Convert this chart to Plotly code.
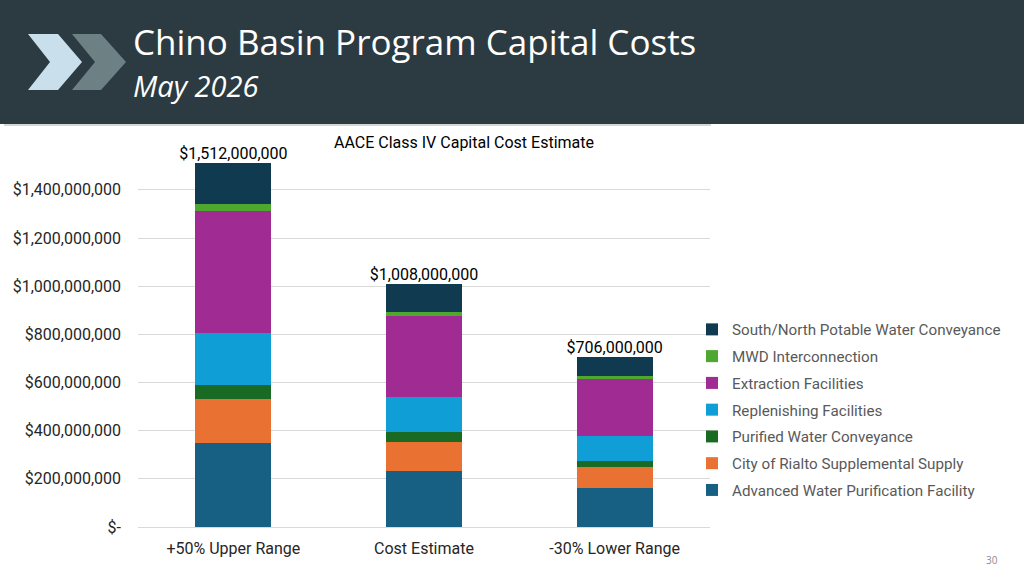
import plotly.graph_objects as go

# values in $ millions
scenarios = ["+50% Upper Range", "Cost Estimate", "-30% Lower Range"]
awpf = [347, 231, 162]            # Advanced Water Purification Facility
rialto = [186, 124, 87]           # City of Rialto Supplemental Supply
purified = [58, 39, 27]           # Purified Water Conveyance
replenishing = [216, 144, 101]    # Replenishing Facilities
extraction = [506, 337, 236]      # Extraction Facilities
mwd = [27, 18, 13]                # MWD Interconnection
south_north = [172, 115, 80]      # South/North Potable Water Conveyance

series = [
    ("Advanced Water Purification Facility", awpf, "#176083"),
    ("City of Rialto Supplemental Supply", rialto, "#e97132"),
    ("Purified Water Conveyance", purified, "#196b24"),
    ("Replenishing Facilities", replenishing, "#0f9ed5"),
    ("Extraction Facilities", extraction, "#a02b93"),
    ("MWD Interconnection", mwd, "#4ea72e"),
    ("South/North Potable Water Conveyance", south_north, "#0f3a50"),
]

y_ticks = [0, 200, 400, 600, 800, 1000, 1200, 1400]

totals = [sum(v) for v in zip(*[s[1] for s in series])]

# plot area in pixels (1024x576 page)
W, H = 1024, 576
L, R, T, B = 138, 710, 161, 527


def px(x):
    return (x - L) / (R - L)


def py(y):
    return (B - y) / (B - T)


fig = go.Figure()
for i, (name, vals, col) in enumerate(series):
    fig.add_trace(go.Bar(
        name=name, x=scenarios, y=[v * 1e6 for v in vals],
        marker=dict(color=col, line=dict(width=0)),
        legendgroup=str(i), legendrank=len(series) - i, hoverinfo="name+y",
    ))

fig.add_trace(go.Scatter(
    x=scenarios, y=[t * 1e6 for t in totals], mode="text",
    text=["${:,.0f}".format(t * 1e6) for t in totals],
    textposition="top center", cliponaxis=False,
    textfont=dict(size=16, color="#000000", family="Roboto"),
    showlegend=False, hoverinfo="skip",
))

shapes = [
    # header band
    dict(type="rect", xref="paper", yref="paper", x0=px(0), x1=px(W), y0=py(124), y1=py(0),
         fillcolor="#2c3b41", line=dict(width=0), layer="below"),
    # chart box top edge
    dict(type="line", xref="paper", yref="paper", x0=px(4), x1=px(711), y0=py(125), y1=py(125),
         line=dict(color="#c8c8c8", width=1.5)),
    # chevrons
    dict(type="path", xref="paper", yref="paper",
         path="M {},{} L {},{} L {},{} L {},{} L {},{} L {},{} Z".format(
             px(28), py(34), px(58), py(34), px(82), py(62),
             px(58), py(90), px(28), py(90), px(50), py(62)),
         fillcolor="#c9dfeb", line=dict(width=0)),
    dict(type="path", xref="paper", yref="paper",
         path="M {},{} L {},{} L {},{} L {},{} L {},{} L {},{} Z".format(
             px(72), py(34), px(101), py(34), px(126), py(62),
             px(101), py(90), px(72), py(90), px(95), py(62)),
         fillcolor="#6d8185", line=dict(width=0)),
]

annotations = [
    dict(text="Chino Basin Program Capital Costs", xref="paper", yref="paper",
         x=px(131), y=py(42), xanchor="left", yanchor="middle", showarrow=False,
         font=dict(family="Open Sans", size=35, color="#ffffff")),
    dict(text="<i>May 2026</i>", xref="paper", yref="paper",
         x=px(131), y=py(85.5), xanchor="left", yanchor="middle", showarrow=False,
         font=dict(family="Open Sans", size=29, color="#ffffff")),
    dict(text="AACE Class IV Capital Cost Estimate", xref="paper", yref="paper",
         x=px(464), y=py(143), xanchor="center", yanchor="middle", showarrow=False,
         font=dict(family="Roboto", size=16, color="#000000")),
    dict(text="30", xref="paper", yref="paper",
         x=px(992), y=py(560), xanchor="center", yanchor="middle", showarrow=False,
         font=dict(family="Open Sans", size=10, color="#8c8c8c")),
]

fig.update_layout(
    width=W, height=H, autosize=False,
    margin=dict(l=L, r=W - R, t=T, b=H - B, pad=0),
    paper_bgcolor="#ffffff", plot_bgcolor="#ffffff",
    barmode="stack", bargap=0.6,
    font=dict(family="Roboto", size=16, color="#262626"),
    showlegend=True,
    legend=dict(
        x=px(692), y=py(313), xanchor="left", yanchor="top",
        traceorder="grouped", tracegroupgap=4,
        font=dict(family="Roboto", size=15.2, color="#595959"),
        bgcolor="rgba(0,0,0,0)", borderwidth=0,
    ),
    xaxis=dict(showgrid=False, showline=False, ticks="", ticklabelstandoff=10,
               tickfont=dict(size=16, color="#262626")),
    yaxis=dict(
        range=[0, 1.52e9], tickvals=[t * 1e6 for t in y_ticks],
        ticktext=["$-" if t == 0 else "${:,.0f}".format(t * 1e6) for t in y_ticks],
        showgrid=True, gridcolor="#d9d9d9", gridwidth=1,
        zeroline=True, zerolinecolor="#d9d9d9", zerolinewidth=1,
        showline=False, ticks="", ticklabelstandoff=16,
        tickfont=dict(size=16, color="#262626"),
    ),
    shapes=shapes, annotations=annotations,
)

fig.write_html(
    "out.html",
    config={"displayModeBar": False},
    post_script="document.body.style.margin='0';document.body.style.overflow='hidden';",
)
